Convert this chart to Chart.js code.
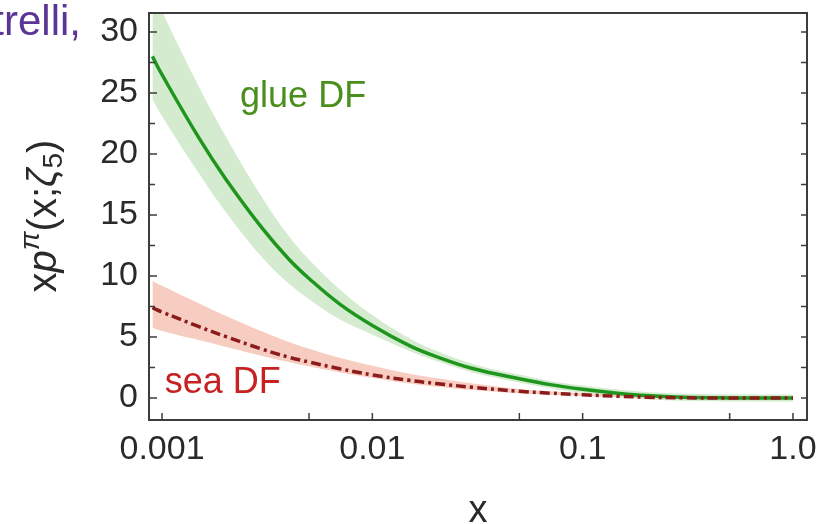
<!DOCTYPE html>
<html>
<head>
<meta charset="utf-8">
<script src="https://cdn.jsdelivr.net/npm/chart.js@4.4.1/dist/chart.umd.min.js"></script>
<style>
  html, body { margin: 0; padding: 0; background: #fff; }
  #wrap { width: 831px; height: 524px; }
</style>
</head>
<body>
<div id="wrap"><canvas id="df" width="831" height="524"></canvas></div>
<script>
// momentum fraction grid (log axis)
const xs = [0.0009, 0.001, 0.0015, 0.002, 0.003, 0.004, 0.005, 0.007, 0.01, 0.015, 0.02, 0.03, 0.05, 0.07, 0.1, 0.15, 0.2, 0.3, 0.5, 0.7, 1.0];

// glue DF, central curve and band
const glue   = [28.0, 26.5, 21.3, 18.0, 13.9, 11.4, 9.8, 7.7, 5.95, 4.3, 3.42, 2.42, 1.58, 1.1, 0.72, 0.38, 0.2, 0.07, 0.01, 0, 0];
const glueHi = [33.6, 31.7, 25.5, 21.5, 16.4, 13.3, 11.35, 8.9, 6.8, 4.9, 3.9, 2.8, 1.92, 1.4, 1.02, 0.68, 0.5, 0.37, 0.31, 0.3, 0.3];
const glueLo = [24.5, 23.1, 18.4, 15.3, 11.5, 9.4, 8.1, 6.45, 5.2, 3.85, 3.05, 2.1, 1.28, 0.8, 0.42, 0.08, -0.1, -0.23, -0.29, -0.3, -0.3];

// sea DF, central curve and band
const sea   = [7.4, 7.05, 5.85, 5.05, 4.0, 3.35, 2.95, 2.4, 1.9, 1.45, 1.2, 0.88, 0.55, 0.4, 0.27, 0.14, 0.07, 0.02, 0, 0, 0];
const seaHi = [9.6, 9.2, 7.75, 6.75, 5.45, 4.6, 4.05, 3.3, 2.65, 2.0, 1.65, 1.2, 0.75, 0.55, 0.38, 0.22, 0.13, 0.06, 0.02, 0, 0];
const seaLo = [5.75, 5.5, 4.75, 4.2, 3.45, 2.95, 2.6, 2.1, 1.65, 1.2, 0.95, 0.65, 0.38, 0.27, 0.17, 0.07, 0.02, 0, 0, 0, 0];

// axes
const xTicks  = [0.001, 0.005, 0.01, 0.05, 0.1, 0.5, 1.0];
const xLabels = ['0.001', '', '0.01', '', '0.1', '', '1.0'];
const yTicks  = [0, 5, 10, 15, 20, 25, 30];
const yMarks  = [0, 2.5, 5, 7.5, 10, 12.5, 15, 17.5, 20, 22.5, 25, 27.5, 30];

const FONT = "'Liberation Sans', Arial, sans-serif";
const pts = ys => xs.map((x, i) => ({ x: x, y: ys[i] }));

const band = (ys, fill, color, order) => ({
  data: pts(ys), borderWidth: 0, pointRadius: 0, fill: fill,
  backgroundColor: color, tension: 0.4, order: order
});

const frame = {
  id: 'frame',
  afterDraw(chart) {
    const { ctx, chartArea: a, scales: { x, y } } = chart;
    ctx.save();
    ctx.strokeStyle = '#3c3c3c';
    ctx.lineWidth = 2;
    ctx.strokeRect(a.left, a.top, a.right - a.left, a.bottom - a.top);

    ctx.lineWidth = 1.5;
    ctx.beginPath();
    yMarks.forEach(v => {
      const py = y.getPixelForValue(v);
      const len = v % 5 === 0 ? 8 : 6;
      ctx.moveTo(a.left, py); ctx.lineTo(a.left + len, py);
      ctx.moveTo(a.right, py); ctx.lineTo(a.right - 6, py);
    });
    xTicks.forEach(v => {
      const px = x.getPixelForValue(v);
      ctx.moveTo(px, a.bottom); ctx.lineTo(px, a.bottom - 7);
    });
    ctx.stroke();

    // curve labels
    ctx.font = '36px ' + FONT;
    ctx.textBaseline = 'alphabetic';
    ctx.textAlign = 'left';
    ctx.fillStyle = '#4a8e1c';
    ctx.fillText('glue DF', x.getPixelForValue(0.00235), y.getPixelForValue(23.85));
    ctx.fillStyle = '#c62222';
    ctx.fillText('sea DF', x.getPixelForValue(0.00103), y.getPixelForValue(0.4));

    // clipped author text from the slide
    ctx.font = '42px ' + FONT;
    ctx.fillStyle = '#5b3596';
    ctx.textAlign = 'right';
    ctx.fillText('trelli,', 81, 35);

    // y axis title  xp^π(x;ζ5)
    const parts = [
      { t: 'x', s: 40, f: '', dy: 0 },
      { t: 'p', s: 40, f: 'italic ', dy: 0 },
      { t: 'π', s: 28, f: 'italic ', dy: -17 },
      { t: '(x;', s: 40, f: '', dy: 0 },
      { t: 'ζ', s: 40, f: 'italic ', dy: 0 },
      { t: '5', s: 28, f: '', dy: 6 },
      { t: ')', s: 40, f: '', dy: 0 }
    ];
    let total = 0;
    parts.forEach(p => { ctx.font = p.f + p.s + 'px ' + FONT; p.w = ctx.measureText(p.t).width; total += p.w; });
    ctx.translate(56, 216);
    ctx.rotate(-Math.PI / 2);
    ctx.textAlign = 'left';
    ctx.fillStyle = '#2a2a2a';
    let cx = -total / 2;
    parts.forEach(p => {
      ctx.font = p.f + p.s + 'px ' + FONT;
      ctx.fillText(p.t, cx, p.dy);
      cx += p.w;
    });
    ctx.restore();
  }
};

new Chart(document.getElementById('df'), {
  type: 'line',
  data: {
    datasets: [
      band(glueHi, '+1', 'rgba(210,234,204,0.95)', 4),
      band(glueLo, false, 'rgba(0,0,0,0)', 4),
      band(seaHi, '+1', 'rgba(246,198,186,0.9)', 3),
      band(seaLo, false, 'rgba(0,0,0,0)', 3),
      {
        data: pts(glue), borderColor: '#1e961e', borderWidth: 3.5, pointRadius: 0,
        fill: false, tension: 0.4, order: 1
      },
      {
        data: pts(sea), borderColor: '#8c1c1c', borderWidth: 3.5, pointRadius: 0,
        borderDash: [10, 4, 3, 4], fill: false, tension: 0.4, order: 0
      }
    ]
  },
  options: {
    responsive: false,
    animation: false,
    devicePixelRatio: 1,
    layout: { padding: { top: 13, right: 24, bottom: 0, left: 0 } },
    plugins: { legend: { display: false }, tooltip: { enabled: false } },
    scales: {
      x: {
        type: 'logarithmic', min: 0.000867, max: 1.166,
        grid: { display: false, drawTicks: false },
        border: { display: false },
        afterBuildTicks: s => { s.ticks = xTicks.map(v => ({ value: v })); },
        afterFit: s => { s.height = 104; s.paddingLeft = 0; s.paddingRight = 0; },
        ticks: {
          autoSkip: false, maxRotation: 0, padding: 9, color: '#2a2a2a',
          font: { family: FONT, size: 34 },
          callback: (v, i) => xLabels[i]
        },
        title: {
          display: true, text: 'x', color: '#2a2a2a',
          font: { family: FONT, size: 38, lineHeight: 1 },
          padding: { top: 0, bottom: -7 }
        }
      },
      y: {
        min: -1.8, max: 31.56,
        grid: { display: false, drawTicks: false },
        border: { display: false },
        afterBuildTicks: s => { s.ticks = yTicks.map(v => ({ value: v })); },
        afterFit: s => { s.width = 149; s.paddingTop = 0; s.paddingBottom = 0; },
        ticks: {
          padding: 11, color: '#2a2a2a',
          font: { family: FONT, size: 34 },
          callback: v => String(v)
        }
      }
    }
  },
  plugins: [frame]
});
</script>
</body>
</html>
